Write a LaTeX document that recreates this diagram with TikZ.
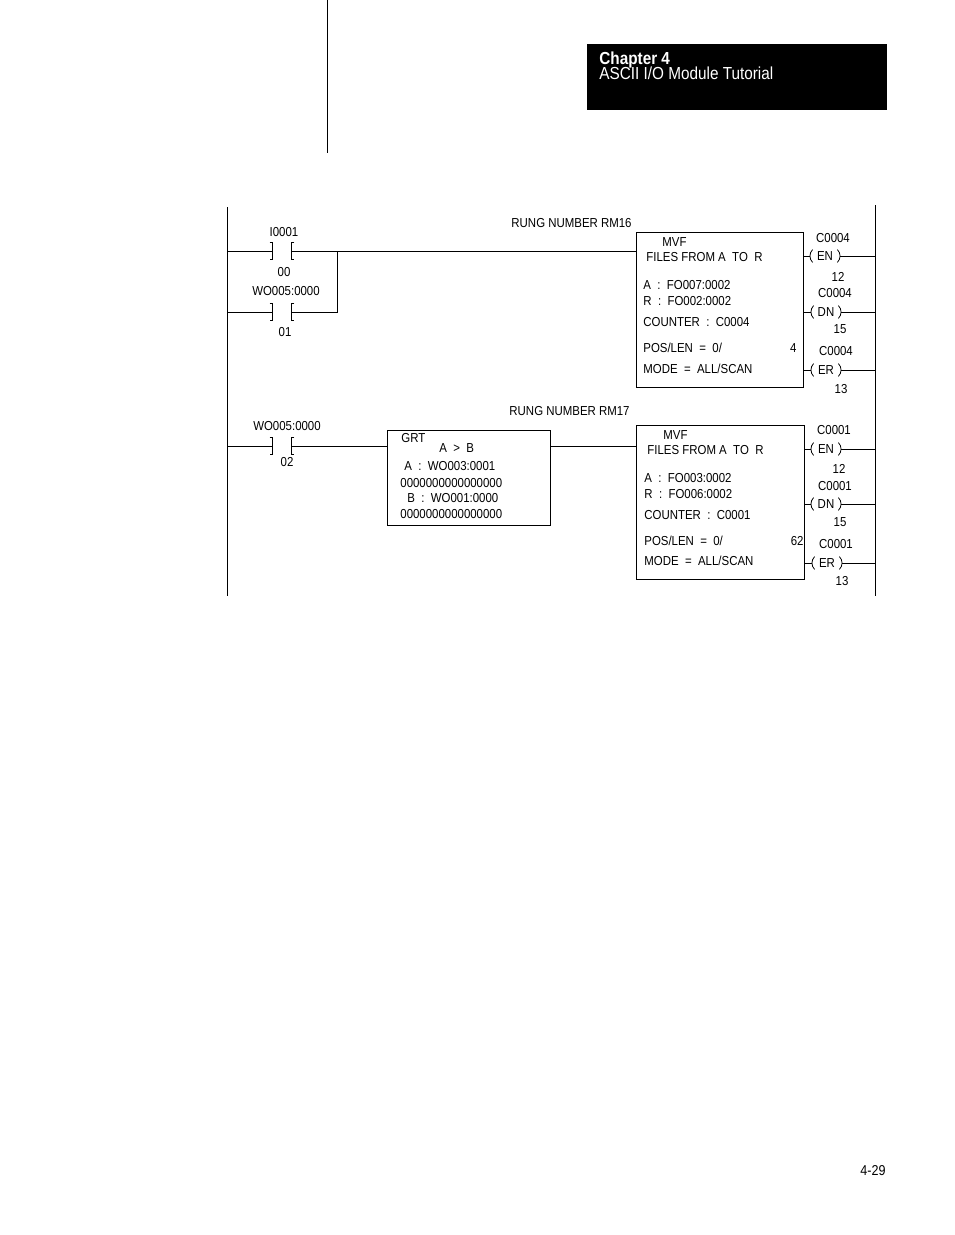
\documentclass[tikz,border=0pt]{standalone}
\usepackage{fontspec}
\setmainfont{Liberation Sans}[FakeStretch=0.88]
\usepackage{tikz}
\usetikzlibrary{calc,positioning}
\tikzset{
  lbl/.style={inner sep=0pt,font=\fontsize{13}{15}\selectfont},
  txt/.style={lbl,anchor=west},
  instr/.style={draw,inner sep=0pt,anchor=north west},
  contact/.style={minimum width=18pt,minimum height=16pt,inner sep=0pt},
  coil/.style={lbl,minimum width=30pt,minimum height=12pt}
}
\newcommand{\brk}[1]{%
  \draw ([xshift=-3pt]#1.north west) -- (#1.north west) -- (#1.south west) -- ([xshift=-3pt]#1.south west);
  \draw ([xshift=3pt]#1.north east) -- (#1.north east) -- (#1.south east) -- ([xshift=3pt]#1.south east);}
\newcommand{\parens}[1]{%
  \draw ([xshift=3pt]#1.north west) to[bend right=45] ([xshift=3pt]#1.south west);
  \draw ([xshift=-3pt]#1.north east) to[bend left=45] ([xshift=-3pt]#1.south east);}

\begin{document}
\begin{tikzpicture}[x=1pt,y=-1pt,line width=0.8pt]
    \useasboundingbox (0,0) rectangle (954,1235);
    % page header
    \draw (327,0) -- (327,153);
    \fill (587,44) rectangle (887,110);
    \node[anchor=base west,inner sep=0pt,text=white,font=\fontsize{17.4}{19}\selectfont\bfseries] (chap) at (599,64.5) {Chapter 4};
    \node[anchor=base west,inner sep=0pt,text=white,font=\fontsize{17.4}{19}\selectfont] (title) at (599,79.5) {ASCII I/O Module Tutorial};
    \node[anchor=base east,inner sep=0pt,font=\fontsize{14.3}{16}\selectfont] (pg) at (886,1175) {4-29};

    % rails
    \coordinate (railL) at (227,207);
    \coordinate (railR) at (875,205);
    \draw (railL) -- (227,596);
    \draw (railR) -- (875,596);

    % rung RM16
    \node[lbl,anchor=east] (rungA) at (632,223) {RUNG NUMBER RM16};
    \node[contact] (cA) at (282,251) {};
    \node[contact] (cB) at (282,312) {};
    \node[lbl] at (284,232) {I0001};
    \node[lbl] at (284,272) {00};
    \node[lbl] at (286,291) {WO005:0000};
    \node[lbl] at (285,332) {01};
    \brk{cA} \brk{cB}
    \node[instr,minimum width=167pt,minimum height=155pt] (mvfA) at (636,232) {};
    \node[txt] at (662,242) {MVF};
    \node[txt] at (646,257) {FILES FROM A\ \ TO\ \ R};
    \node[txt] at (643,285) {A\ \ :\ \ FO007:0002};
    \node[txt] at (643,301) {R\ \ :\ \ FO002:0002};
    \node[txt] at (643,322) {COUNTER\ \ :\ \ C0004};
    \node[txt] at (643,348) {POS/LEN\ \ =\ \ 0/};
    \node[lbl,anchor=east] at (797,348) {4};
    \node[txt] at (643,369) {MODE\ \ =\ \ ALL/SCAN};
    \draw (railL |- cA) -- (cA.west);
    \draw (cA.east) -- (mvfA.west |- cA);
    \draw (railL |- cB) -- (cB.west);
    \draw (cB.east) -- (337,312) -- (337,251);
    % coils RM16
    \node[coil] (enA) at (825,256) {EN};
    \node[coil] (dnA) at (826,312) {DN};
    \node[coil] (erA) at (826,370) {ER};
    \foreach \c in {enA,dnA,erA} {
      \parens{\c}
      \draw (mvfA.east |- \c) -- (\c.west);
      \draw (\c.east) -- (railR |- \c);
    }
    \node[lbl] at (833,238) {C0004};
    \node[lbl] at (838,277) {12};
    \node[lbl] at (835,293) {C0004};
    \node[lbl] at (840,329) {15};
    \node[lbl] at (836,351) {C0004};
    \node[lbl] at (841,389) {13};

    % rung RM17
    \node[lbl,anchor=east] (rungB) at (630,411) {RUNG NUMBER RM17};
    \node[contact] (cC) at (282,446) {};
    \node[lbl] at (287,426) {WO005:0000};
    \node[lbl] at (287,462) {02};
    \brk{cC}
    \node[instr,minimum width=163pt,minimum height=95pt] (grt) at (387,430) {};
    \node[txt] at (401,438) {GRT};
    \node[txt] at (439,448) {A\ \ >\ \ B};
    \node[txt] at (404,466) {A\ \ :\ \ WO003:0001};
    \node[txt] at (400,483) {0000000000000000};
    \node[txt] at (407,498) {B\ \ :\ \ WO001:0000};
    \node[txt] at (400,514) {0000000000000000};
    \node[instr,minimum width=168pt,minimum height=154pt] (mvfB) at (636,425) {};
    \node[txt] at (663,435) {MVF};
    \node[txt] at (647,450) {FILES FROM A\ \ TO\ \ R};
    \node[txt] at (644,478) {A\ \ :\ \ FO003:0002};
    \node[txt] at (644,494) {R\ \ :\ \ FO006:0002};
    \node[txt] at (644,515) {COUNTER\ \ :\ \ C0001};
    \node[txt] at (644,541) {POS/LEN\ \ =\ \ 0/};
    \node[lbl,anchor=east] at (804,541) {62};
    \node[txt] at (644,561) {MODE\ \ =\ \ ALL/SCAN};
    \draw (railL |- cC) -- (cC.west);
    \draw (cC.east) -- (grt.west |- cC);
    \draw (grt.east |- cC) -- (mvfB.west |- cC);
    % coils RM17
    \node[coil] (enB) at (826,449) {EN};
    \node[coil] (dnB) at (826,504) {DN};
    \node[coil] (erB) at (827,563) {ER};
    \foreach \c in {enB,dnB,erB} {
      \parens{\c}
      \draw (mvfB.east |- \c) -- (\c.west);
      \draw (\c.east) -- (railR |- \c);
    }
    \node[lbl] at (834,430) {C0001};
    \node[lbl] at (839,469) {12};
    \node[lbl] at (835,486) {C0001};
    \node[lbl] at (840,522) {15};
    \node[lbl] at (836,544) {C0001};
    \node[lbl] at (842,581) {13};
\end{tikzpicture}
\end{document}
